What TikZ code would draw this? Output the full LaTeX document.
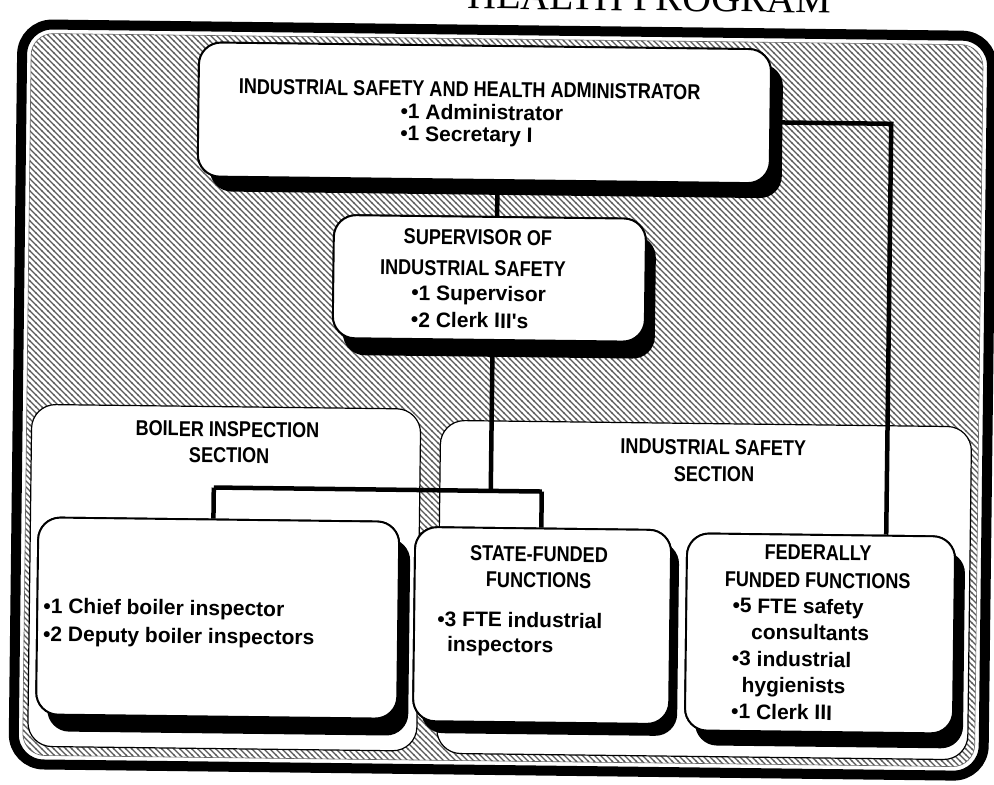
\documentclass[tikz,border=0pt]{standalone}
\usepackage{fontspec}
\setmainfont{Liberation Sans}
\newfontfamily\capsfont[FakeStretch=0.84]{Liberation Sans}
\newfontfamily\itemfont{Liberation Sans}
\newfontfamily\headfont{Liberation Serif}
\usetikzlibrary{patterns,shadows}
\pgfdeclarepatternformonly{hatchNW}{\pgfqpoint{-1pt}{-1pt}}{\pgfqpoint{7pt}{7pt}}{\pgfqpoint{6pt}{6pt}}{%
  \pgfsetlinewidth{1.2pt}%
  \pgfpathmoveto{\pgfqpoint{-0.5pt}{6.5pt}}%
  \pgfpathlineto{\pgfqpoint{6.5pt}{-0.5pt}}%
  \pgfusepath{stroke}}
\begin{document}
\begin{tikzpicture}[x=1pt,y=-1pt,
  sect/.style={draw=black, line width=1.2pt, fill=white, rounded corners=24pt, inner sep=0pt},
  orgbox/.style={draw=black, line width=1.9pt, fill=white, rounded corners=22pt, inner sep=0pt},
  shad/.style 2 args={drop shadow={shadow xshift=#1pt, shadow yshift=-#2pt, fill=black, opacity=1}},
  conn/.style={draw=black, line width=4.5pt},
  ttl/.style={font=\capsfont\bfseries\fontsize{21.5}{26}\selectfont, inner sep=0pt, anchor=base},
  itm/.style={font=\itemfont\bfseries\fontsize{21}{26}\selectfont, inner sep=0pt, anchor=base west}]
\useasboundingbox (0,0) rectangle (994,785);
\clip (0,0) rectangle (994,785);
\fill[white] (0,0) rectangle (994,785);
\begin{scope}[rotate around={-0.7:(497,392)}, transform shape]
  % cut-off heading
  \node[font=\headfont\fontsize{40}{40}\selectfont, inner sep=0pt, anchor=base east] (head) at (827,9) {HEALTH PROGRAM};
  % frame
  \draw[line width=10pt, rounded corners=30pt] (18,30) rectangle (988,770);
  \path[pattern=hatchNW, pattern color=black!65, rounded corners=22pt] (27,39) rectangle (979,761);
  \draw[black!60, line width=0.6pt, rounded corners=22pt] (27,39) rectangle (979,761);
  % sections
  \node[sect, minimum width=389pt, minimum height=342pt] (bsec) at (226.5,581) {};
  \node[sect, minimum width=531pt, minimum height=333pt] (isec) at (706.5,587.5) {};
  % boxes with shadows
  \coordinate (admc) at (481,113);
  \coordinate (supc) at (488,278.5);
  \coordinate (bbc) at (220.5,621.5);
  \coordinate (sbc) at (545,625);
  \coordinate (fbc) at (823,629.5);
  \node[orgbox, shad={12}{15}, minimum width=572pt, minimum height=134pt] (admin) at (admc) {};
  \node[orgbox, shad={10}{17}, minimum width=312pt, minimum height=123pt] (sup) at (supc) {};
  \node[orgbox, shad={11}{17}, minimum width=361pt, minimum height=197pt] (bbox) at (bbc) {};
  \node[orgbox, shad={8}{12}, minimum width=256pt, minimum height=194pt] (sbox) at (sbc) {};
  \node[orgbox, shad={10}{15}, minimum width=268pt, minimum height=197pt] (fbox) at (fbc) {};
  % connectors
  \coordinate (c1) at (495,0);
  \coordinate (j) at (492,491);
  \coordinate (jl) at (215,491);
  \coordinate (jr) at (543,491);
  \coordinate (fr) at (888,119);
  \draw[conn] (admin.south -| c1) -- (sup.north -| c1);
  \draw[conn] (sup.south -| j) -- (j);
  \draw[conn] (jl) -- (jr);
  \draw[conn] (jl) -- (bbox.north -| jl);
  \draw[conn] (jr) -- (sbox.north -| jr);
  \draw[conn] (admin.east |- fr) -- (fr) -- (fbox.north -| fr);
  % redraw box faces over connector ends
  \node[orgbox, minimum width=572pt, minimum height=134pt] (adminf) at (admc) {};
  \node[orgbox, minimum width=312pt, minimum height=123pt] (supf) at (supc) {};
  \node[orgbox, minimum width=361pt, minimum height=197pt] (bboxf) at (bbc) {};
  \node[orgbox, minimum width=256pt, minimum height=194pt] (sboxf) at (sbc) {};
  \node[orgbox, minimum width=268pt, minimum height=197pt] (fboxf) at (fbc) {};
  % texts
  \node[ttl] (tadm) at (466,97) {INDUSTRIAL SAFETY AND HEALTH ADMINISTRATOR};
  \node[itm] (a1) at (397,120) {•1 Administrator};
  \node[itm] (a2) at (397,142) {•1 Secretary I};
  \node[ttl] (ts1) at (476,245) {SUPERVISOR OF};
  \node[ttl] (ts2) at (471.5,276) {INDUSTRIAL SAFETY};
  \node[itm] (s1) at (410,301) {•1 Supervisor};
  \node[itm] (s2) at (410,328) {•2 Clerk III's};
  \node[ttl] (tb1) at (228,440) {BOILER INSPECTION};
  \node[ttl] (tb2) at (230,466) {SECTION};
  \node[itm] (b1) at (46,619) {•1 Chief boiler inspector};
  \node[itm] (b2) at (46,647) {•2 Deputy boiler inspectors};
  \node[ttl] (ti1) at (714,452) {INDUSTRIAL SAFETY};
  \node[ttl] (ti2) at (715,479) {SECTION};
  \node[ttl] (tst1) at (541,561) {STATE-FUNDED};
  \node[ttl] (tst2) at (541,587) {FUNCTIONS};
  \node[itm] (st1) at (440,627) {•3 FTE industrial};
  \node[itm] (st2) at (450,652) {inspectors};
  \node[ttl] (tf1) at (820,556) {FEDERALLY};
  \node[ttl] (tf2) at (820,584) {FUNDED FUNCTIONS};
  \node[itm] (f1) at (735,610) {•5 FTE safety};
  \node[itm] (f2) at (754,636) {consultants};
  \node[itm] (f3) at (735,663) {•3 industrial};
  \node[itm] (f4) at (745,689) {hygienists};
  \node[itm] (f5) at (735,716) {•1 Clerk III};
\end{scope}
\end{tikzpicture}
\end{document}
